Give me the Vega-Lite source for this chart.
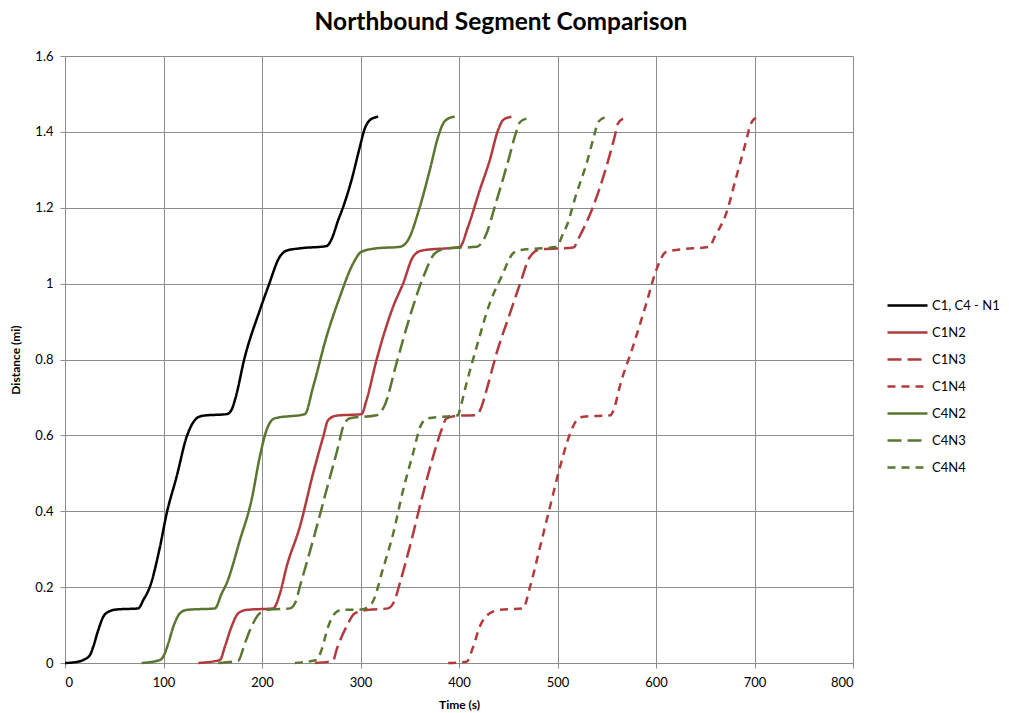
{
  "$schema": "https://vega.github.io/schema/vega-lite/v6.json",
  "width": 788,
  "height": 607,
  "autosize": {"type": "none"},
  "padding": {"left": 65, "top": 56, "right": 156, "bottom": 50},
  "background": "white",
  "title": {"text": "Northbound Segment Comparison", "font": "Lato", "fontSize": 24.5, "fontWeight": "bold", "color": "#000000", "anchor": "middle", "frame": "group", "dx": 42, "offset": 15},
  "config": {
    "view": {"stroke": null},
    "font": "Lato",
    "axis": {"gridColor": "#8c8c8c", "gridWidth": 1, "domainColor": "#8c8c8c", "tickColor": "#8c8c8c", "tickSize": 5, "labelColor": "#000000", "labelFontSize": 13, "titleColor": "#000000", "titleFontSize": 12, "titleFontWeight": "bold", "labelFont": "Lato", "titleFont": "Lato"}
  },
  "datasets": {
    "curves": [
      {"s": "C1, C4 - N1", "t": 0, "d": 0}, {"s": "C1, C4 - N1", "t": 10, "d": 0.002}, {"s": "C1, C4 - N1", "t": 18.6, "d": 0.008}, {"s": "C1, C4 - N1", "t": 25.4, "d": 0.021}, {"s": "C1, C4 - N1", "t": 28.7, "d": 0.043}, {"s": "C1, C4 - N1", "t": 33.8, "d": 0.087}, {"s": "C1, C4 - N1", "t": 38.9, "d": 0.122}, {"s": "C1, C4 - N1", "t": 44, "d": 0.135}, {"s": "C1, C4 - N1", "t": 52.4, "d": 0.141}, {"s": "C1, C4 - N1", "t": 74.4, "d": 0.144}, {"s": "C1, C4 - N1", "t": 79.5, "d": 0.166}, {"s": "C1, C4 - N1", "t": 86.2, "d": 0.201}, {"s": "C1, C4 - N1", "t": 96.4, "d": 0.306}, {"s": "C1, C4 - N1", "t": 103.2, "d": 0.394}, {"s": "C1, C4 - N1", "t": 113.3, "d": 0.491}, {"s": "C1, C4 - N1", "t": 123.5, "d": 0.596}, {"s": "C1, C4 - N1", "t": 128.5, "d": 0.627}, {"s": "C1, C4 - N1", "t": 133.6, "d": 0.645}, {"s": "C1, C4 - N1", "t": 140.3, "d": 0.652}, {"s": "C1, C4 - N1", "t": 164, "d": 0.656}, {"s": "C1, C4 - N1", "t": 169, "d": 0.667}, {"s": "C1, C4 - N1", "t": 172.5, "d": 0.693}, {"s": "C1, C4 - N1", "t": 182.6, "d": 0.807}, {"s": "C1, C4 - N1", "t": 197.8, "d": 0.93}, {"s": "C1, C4 - N1", "t": 206.3, "d": 0.992}, {"s": "C1, C4 - N1", "t": 218.1, "d": 1.071}, {"s": "C1, C4 - N1", "t": 225, "d": 1.087}, {"s": "C1, C4 - N1", "t": 238.4, "d": 1.093}, {"s": "C1, C4 - N1", "t": 265.5, "d": 1.099}, {"s": "C1, C4 - N1", "t": 270.6, "d": 1.117}, {"s": "C1, C4 - N1", "t": 277.3, "d": 1.167}, {"s": "C1, C4 - N1", "t": 282.4, "d": 1.202}, {"s": "C1, C4 - N1", "t": 290.9, "d": 1.273}, {"s": "C1, C4 - N1", "t": 299.3, "d": 1.36}, {"s": "C1, C4 - N1", "t": 304.4, "d": 1.409}, {"s": "C1, C4 - N1", "t": 309.5, "d": 1.431}, {"s": "C1, C4 - N1", "t": 317.9, "d": 1.44},

      {"s": "C1N2", "t": 135.3, "d": 0}, {"s": "C1N2", "t": 157.3, "d": 0.008}, {"s": "C1N2", "t": 162.3, "d": 0.043}, {"s": "C1N2", "t": 169.1, "d": 0.096}, {"s": "C1N2", "t": 175.9, "d": 0.131}, {"s": "C1N2", "t": 184.4, "d": 0.14}, {"s": "C1N2", "t": 211.4, "d": 0.144}, {"s": "C1N2", "t": 218.2, "d": 0.183}, {"s": "C1N2", "t": 225, "d": 0.254}, {"s": "C1N2", "t": 238.4, "d": 0.359}, {"s": "C1N2", "t": 251.9, "d": 0.5}, {"s": "C1N2", "t": 262.1, "d": 0.596}, {"s": "C1N2", "t": 267.1, "d": 0.64}, {"s": "C1N2", "t": 275.6, "d": 0.652}, {"s": "C1N2", "t": 301, "d": 0.656}, {"s": "C1N2", "t": 306.1, "d": 0.693}, {"s": "C1N2", "t": 316.2, "d": 0.798}, {"s": "C1N2", "t": 333.1, "d": 0.939}, {"s": "C1N2", "t": 343.2, "d": 1.0}, {"s": "C1N2", "t": 353.4, "d": 1.071}, {"s": "C1N2", "t": 361.9, "d": 1.087}, {"s": "C1N2", "t": 400.8, "d": 1.097}, {"s": "C1N2", "t": 409.2, "d": 1.15}, {"s": "C1N2", "t": 421, "d": 1.246}, {"s": "C1N2", "t": 431.2, "d": 1.325}, {"s": "C1N2", "t": 439.6, "d": 1.404}, {"s": "C1N2", "t": 444.7, "d": 1.431}, {"s": "C1N2", "t": 453.2, "d": 1.44},

      {"s": "C1N3", "t": 253.7, "d": 0}, {"s": "C1N3", "t": 272.2, "d": 0.006}, {"s": "C1N3", "t": 275.6, "d": 0.034}, {"s": "C1N3", "t": 285.8, "d": 0.096}, {"s": "C1N3", "t": 294.2, "d": 0.131}, {"s": "C1N3", "t": 307.7, "d": 0.14}, {"s": "C1N3", "t": 328, "d": 0.144}, {"s": "C1N3", "t": 334.8, "d": 0.166}, {"s": "C1N3", "t": 339.9, "d": 0.21}, {"s": "C1N3", "t": 351.8, "d": 0.324}, {"s": "C1N3", "t": 361.9, "d": 0.43}, {"s": "C1N3", "t": 373.7, "d": 0.544}, {"s": "C1N3", "t": 382.2, "d": 0.614}, {"s": "C1N3", "t": 387.3, "d": 0.645}, {"s": "C1N3", "t": 399.1, "d": 0.652}, {"s": "C1N3", "t": 417.7, "d": 0.653}, {"s": "C1N3", "t": 422.8, "d": 0.675}, {"s": "C1N3", "t": 427.9, "d": 0.719}, {"s": "C1N3", "t": 438.1, "d": 0.816}, {"s": "C1N3", "t": 451.8, "d": 0.922}, {"s": "C1N3", "t": 462, "d": 1.0}, {"s": "C1N3", "t": 472.1, "d": 1.071}, {"s": "C1N3", "t": 482.3, "d": 1.09}, {"s": "C1N3", "t": 516.1, "d": 1.095}, {"s": "C1N3", "t": 522.5, "d": 1.125}, {"s": "C1N3", "t": 536, "d": 1.202}, {"s": "C1N3", "t": 549.6, "d": 1.308}, {"s": "C1N3", "t": 558, "d": 1.387}, {"s": "C1N3", "t": 561.4, "d": 1.422}, {"s": "C1N3", "t": 566.5, "d": 1.435},

      {"s": "C1N4", "t": 389, "d": 0}, {"s": "C1N4", "t": 407.6, "d": 0.003}, {"s": "C1N4", "t": 414.4, "d": 0.043}, {"s": "C1N4", "t": 421.1, "d": 0.096}, {"s": "C1N4", "t": 431.2, "d": 0.131}, {"s": "C1N4", "t": 441.3, "d": 0.14}, {"s": "C1N4", "t": 465, "d": 0.144}, {"s": "C1N4", "t": 472.1, "d": 0.201}, {"s": "C1N4", "t": 482.3, "d": 0.306}, {"s": "C1N4", "t": 492.4, "d": 0.412}, {"s": "C1N4", "t": 502.6, "d": 0.517}, {"s": "C1N4", "t": 512.8, "d": 0.605}, {"s": "C1N4", "t": 519.6, "d": 0.64}, {"s": "C1N4", "t": 526.3, "d": 0.649}, {"s": "C1N4", "t": 553.7, "d": 0.653}, {"s": "C1N4", "t": 558, "d": 0.675}, {"s": "C1N4", "t": 563.1, "d": 0.728}, {"s": "C1N4", "t": 576.6, "d": 0.834}, {"s": "C1N4", "t": 590.2, "d": 0.948}, {"s": "C1N4", "t": 600.3, "d": 1.036}, {"s": "C1N4", "t": 610.5, "d": 1.084}, {"s": "C1N4", "t": 624, "d": 1.09}, {"s": "C1N4", "t": 654.4, "d": 1.097}, {"s": "C1N4", "t": 659.5, "d": 1.123}, {"s": "C1N4", "t": 671.3, "d": 1.185}, {"s": "C1N4", "t": 681.5, "d": 1.281}, {"s": "C1N4", "t": 691.7, "d": 1.378}, {"s": "C1N4", "t": 695.1, "d": 1.413}, {"s": "C1N4", "t": 700.2, "d": 1.435}, {"s": "C1N4", "t": 705.3, "d": 1.44},

      {"s": "C4N2", "t": 77.8, "d": 0}, {"s": "C4N2", "t": 96.4, "d": 0.008}, {"s": "C4N2", "t": 99.8, "d": 0.017}, {"s": "C4N2", "t": 104.9, "d": 0.052}, {"s": "C4N2", "t": 110, "d": 0.096}, {"s": "C4N2", "t": 116.7, "d": 0.131}, {"s": "C4N2", "t": 123.5, "d": 0.14}, {"s": "C4N2", "t": 152.2, "d": 0.144}, {"s": "C4N2", "t": 159, "d": 0.183}, {"s": "C4N2", "t": 164.1, "d": 0.21}, {"s": "C4N2", "t": 177.6, "d": 0.324}, {"s": "C4N2", "t": 189.4, "d": 0.43}, {"s": "C4N2", "t": 197.8, "d": 0.544}, {"s": "C4N2", "t": 204.6, "d": 0.614}, {"s": "C4N2", "t": 213.1, "d": 0.645}, {"s": "C4N2", "t": 243.5, "d": 0.656}, {"s": "C4N2", "t": 251.9, "d": 0.728}, {"s": "C4N2", "t": 265.5, "d": 0.86}, {"s": "C4N2", "t": 279, "d": 0.965}, {"s": "C4N2", "t": 292.5, "d": 1.053}, {"s": "C4N2", "t": 301, "d": 1.084}, {"s": "C4N2", "t": 316.2, "d": 1.093}, {"s": "C4N2", "t": 339.9, "d": 1.097}, {"s": "C4N2", "t": 348.3, "d": 1.115}, {"s": "C4N2", "t": 360.2, "d": 1.202}, {"s": "C4N2", "t": 370.3, "d": 1.299}, {"s": "C4N2", "t": 378.8, "d": 1.387}, {"s": "C4N2", "t": 383.9, "d": 1.422}, {"s": "C4N2", "t": 389, "d": 1.435}, {"s": "C4N2", "t": 395.7, "d": 1.44},

      {"s": "C4N3", "t": 155.5, "d": 0}, {"s": "C4N3", "t": 175.9, "d": 0.006}, {"s": "C4N3", "t": 182.6, "d": 0.052}, {"s": "C4N3", "t": 189.4, "d": 0.096}, {"s": "C4N3", "t": 197.8, "d": 0.131}, {"s": "C4N3", "t": 208, "d": 0.141}, {"s": "C4N3", "t": 228.3, "d": 0.144}, {"s": "C4N3", "t": 234, "d": 0.16}, {"s": "C4N3", "t": 238.4, "d": 0.201}, {"s": "C4N3", "t": 251.9, "d": 0.324}, {"s": "C4N3", "t": 265.5, "d": 0.456}, {"s": "C4N3", "t": 277.3, "d": 0.57}, {"s": "C4N3", "t": 282.4, "d": 0.623}, {"s": "C4N3", "t": 289.2, "d": 0.645}, {"s": "C4N3", "t": 316.2, "d": 0.653}, {"s": "C4N3", "t": 320, "d": 0.66}, {"s": "C4N3", "t": 324.7, "d": 0.68}, {"s": "C4N3", "t": 336.5, "d": 0.79}, {"s": "C4N3", "t": 350.1, "d": 0.913}, {"s": "C4N3", "t": 363.8, "d": 1.018}, {"s": "C4N3", "t": 375.6, "d": 1.08}, {"s": "C4N3", "t": 387.5, "d": 1.093}, {"s": "C4N3", "t": 418, "d": 1.097}, {"s": "C4N3", "t": 426.4, "d": 1.123}, {"s": "C4N3", "t": 438.3, "d": 1.22}, {"s": "C4N3", "t": 450.1, "d": 1.325}, {"s": "C4N3", "t": 458.6, "d": 1.404}, {"s": "C4N3", "t": 462, "d": 1.426}, {"s": "C4N3", "t": 468.4, "d": 1.435},

      {"s": "C4N4", "t": 233.4, "d": 0}, {"s": "C4N4", "t": 243.5, "d": 0.003}, {"s": "C4N4", "t": 255.3, "d": 0.008}, {"s": "C4N4", "t": 260.4, "d": 0.034}, {"s": "C4N4", "t": 267.2, "d": 0.096}, {"s": "C4N4", "t": 274, "d": 0.131}, {"s": "C4N4", "t": 280.7, "d": 0.14}, {"s": "C4N4", "t": 301, "d": 0.141}, {"s": "C4N4", "t": 311.4, "d": 0.157}, {"s": "C4N4", "t": 323, "d": 0.25}, {"s": "C4N4", "t": 333.1, "d": 0.34}, {"s": "C4N4", "t": 343.2, "d": 0.455}, {"s": "C4N4", "t": 353.4, "d": 0.553}, {"s": "C4N4", "t": 361, "d": 0.625}, {"s": "C4N4", "t": 368, "d": 0.645}, {"s": "C4N4", "t": 399.1, "d": 0.653}, {"s": "C4N4", "t": 400.8, "d": 0.667}, {"s": "C4N4", "t": 407.6, "d": 0.737}, {"s": "C4N4", "t": 418, "d": 0.834}, {"s": "C4N4", "t": 431.2, "d": 0.948}, {"s": "C4N4", "t": 443.1, "d": 1.018}, {"s": "C4N4", "t": 454.9, "d": 1.08}, {"s": "C4N4", "t": 461.6, "d": 1.088}, {"s": "C4N4", "t": 498.9, "d": 1.097}, {"s": "C4N4", "t": 505.7, "d": 1.132}, {"s": "C4N4", "t": 509, "d": 1.15}, {"s": "C4N4", "t": 519.2, "d": 1.237}, {"s": "C4N4", "t": 529.4, "d": 1.316}, {"s": "C4N4", "t": 537.8, "d": 1.396}, {"s": "C4N4", "t": 541.2, "d": 1.426}, {"s": "C4N4", "t": 551.3, "d": 1.441}
    ]
  },
  "data": {"name": "curves"},
  "mark": {"type": "line", "strokeWidth": 2.5, "strokeCap": "butt", "interpolate": "monotone"},
  "encoding": {
    "x": {"field": "t", "type": "quantitative", "title": "Time (s)", "scale": {"domain": [0, 800], "nice": false}, "axis": {"values": [0, 100, 200, 300, 400, 500, 600, 700, 800], "labelPadding": 8, "titlePadding": 10}},
    "y": {"field": "d", "type": "quantitative", "title": "Distance (mi)", "scale": {"domain": [0, 1.6], "nice": false}, "axis": {"values": [0, 0.2, 0.4, 0.6, 0.8, 1, 1.2, 1.4, 1.6], "format": "~g", "labelPadding": 7, "titlePadding": 12}},
    "color": {"field": "s", "type": "nominal", "title": null,
      "scale": {"domain": ["C1, C4 - N1", "C1N2", "C1N3", "C1N4", "C4N2", "C4N3", "C4N4"], "range": ["#000000", "#B23A3F", "#B23A3F", "#B23A3F", "#5A7630", "#5A7630", "#5A7630"]},
      "legend": {"orient": "none", "legendX": 821, "legendY": 236, "symbolType": "stroke", "symbolSize": 1600, "symbolStrokeWidth": 2.5, "labelFontSize": 13, "labelFont": "Lato", "labelColor": "#000000", "rowPadding": 0, "clipHeight": 27, "labelOffset": 3}},
    "strokeDash": {"field": "s", "type": "nominal", "title": null,
      "scale": {"domain": ["C1, C4 - N1", "C1N2", "C1N3", "C1N4", "C4N2", "C4N3", "C4N4"], "range": [[1, 0], [1, 0], [14, 6], [8, 6], [1, 0], [14, 6], [8, 6]]}}
  }
}
